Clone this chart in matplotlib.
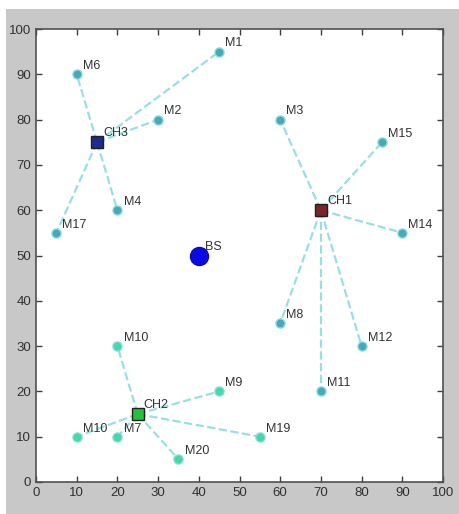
import matplotlib.pyplot as plt
from matplotlib.patches import Rectangle

plt.rcParams['font.family'] = ['Liberation Sans', 'DejaVu Sans']

# base station
bs_x, bs_y = 40, 50

# cluster heads
ch_names = ['CH1', 'CH2', 'CH3']
ch_x = [70, 25, 15]
ch_y = [60, 15, 75]
ch_colors = ['#7a2626', '#22c23c', '#1c2c8c']

# member nodes of each cluster
members = {
    'CH1': (['M3', 'M15', 'M14', 'M8', 'M12', 'M11'],
            [60, 85, 90, 60, 80, 70],
            [80, 75, 55, 35, 30, 20]),
    'CH2': (['M10', 'M9', 'M19', 'M20', 'M7', 'M10'],
            [20, 45, 55, 35, 20, 10],
            [30, 20, 10, 5, 10, 10]),
    'CH3': (['M1', 'M2', 'M6', 'M4', 'M17'],
            [45, 30, 10, 20, 5],
            [95, 80, 90, 60, 55]),
}
member_colors = {'CH1': '#46a9b8', 'CH2': '#44d9a6', 'CH3': '#46a9b8'}

fig = plt.figure(figsize=(4.59, 5.14), dpi=100, facecolor='white')
# grey window background, leaving a thin white strip at top and left
fig.add_artist(Rectangle((6 / 459, 0), 1, 1 - 9 / 514, transform=fig.transFigure,
                         facecolor='#c8c8c8', edgecolor='none', zorder=-10))
ax = fig.add_axes([36 / 459, 32 / 514, 407 / 459, 453 / 514])
ax.set_facecolor('white')

for i, ch in enumerate(ch_names):
    names, mx, my = members[ch]
    for n, x, y in zip(names, mx, my):
        ax.plot([ch_x[i], x], [ch_y[i], y], '--', color='#98dfe4', lw=1.6, zorder=1)
        ax.plot(x, y, 'o', ms=6.5, mfc=member_colors[ch], mec='#86d8de', mew=1.0, zorder=3)
        ax.text(x + 1.5, y + 1.8, n, fontsize=9, color='#333333', va='center', ha='left')
    ax.plot(ch_x[i], ch_y[i], 's', ms=8, mfc=ch_colors[i], mec='#202020', mew=1.0, zorder=4)
    ax.text(ch_x[i] + 1.5, ch_y[i] + 2, ch, fontsize=9, color='#333333', va='center', ha='left')

ax.plot(bs_x, bs_y, 'o', ms=13, mfc='#0a0ae6', mec='#1010a0', mew=1.0, zorder=4)
ax.text(bs_x + 1.5, bs_y + 1.8, 'BS', fontsize=9, color='#333333', va='center', ha='left')

ax.set_xlim(0, 100)
ax.set_ylim(0, 100)
ax.set_xticks(range(0, 101, 10))
ax.set_yticks(range(0, 101, 10))
ax.tick_params(direction='in', top=True, right=True, length=4, width=1.0,
               labelsize=9.5, colors='#404040', labelcolor='#303030')
for s in ax.spines.values():
    s.set_color('#505050')
    s.set_linewidth(1.2)

fig.savefig('out.png', dpi=100, facecolor=fig.get_facecolor())
